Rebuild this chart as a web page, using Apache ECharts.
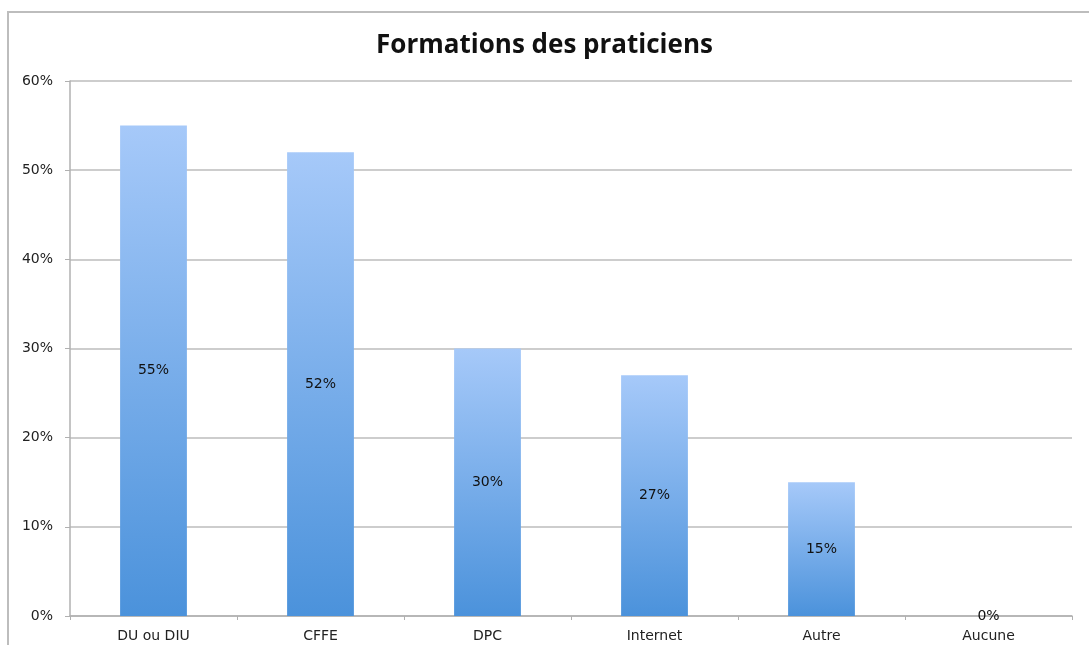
<!DOCTYPE html>
<html>
<head>
<meta charset="utf-8">
<script src="https://cdn.jsdelivr.net/npm/echarts@6/dist/echarts.min.js"></script>
<style>
html,body{margin:0;padding:0;background:#fff;}
#chart{width:1089px;height:645px;}
</style>
</head>
<body>
<div id="chart"></div>
<script>
const categories = ["DU ou DIU", "CFFE", "DPC", "Internet", "Autre", "Aucune"];
const values = [55, 52, 30, 27, 15, 0];
const yTicks = [0, 10, 20, 30, 40, 50, 60];

const chart = echarts.init(document.getElementById('chart'), null, {renderer: 'canvas'});
const font = '"DejaVu Sans", Verdana, sans-serif';
chart.setOption({
  animation: false,
  backgroundColor: '#fff',
  title: {
    text: 'Formations des praticiens',
    left: 'center',
    top: 28,
    textStyle: {fontFamily: '"Open Sans", sans-serif', fontWeight: 'bold', fontSize: 26, color: '#111'}
  },
  graphic: [{
    type: 'rect', silent: true, z: -1,
    shape: {x: 8, y: 12, width: 1200, height: 700},
    style: {fill: 'none', stroke: '#bdbdbd', lineWidth: 2}
  }],
  grid: {left: 70, right: 17, top: 81, bottom: 29, containLabel: false},
  xAxis: {
    type: 'category',
    data: categories,
    axisLine: {lineStyle: {color: '#b0b0b0', width: 1.5}},
    axisTick: {show: true, alignWithLabel: false, length: 4, lineStyle: {color: '#b0b0b0'}},
    axisLabel: {color: '#222', fontFamily: font, fontSize: 14, margin: 13}
  },
  yAxis: {
    type: 'value',
    min: yTicks[0], max: yTicks[yTicks.length - 1], interval: 10,
    axisLine: {show: true, lineStyle: {color: '#b0b0b0', width: 1.5}},
    axisTick: {show: true, length: 5, lineStyle: {color: '#b0b0b0'}},
    axisLabel: {color: '#222', fontFamily: font, fontSize: 14, margin: 17, formatter: '{value}%'},
    splitLine: {lineStyle: {color: '#bcbcbc', width: 1.5}}
  },
  series: [{
    type: 'bar',
    data: values,
    barWidth: '40%',
    itemStyle: {
      color: new echarts.graphic.LinearGradient(0, 0, 0, 1, [
        {offset: 0, color: '#a6c9f9'},
        {offset: 1, color: '#4b92db'}
      ])
    },
    label: {
      show: true, position: 'inside', formatter: '{c}%',
      color: '#111', fontFamily: font, fontSize: 14
    }
  }]
});
</script>
</body>
</html>
